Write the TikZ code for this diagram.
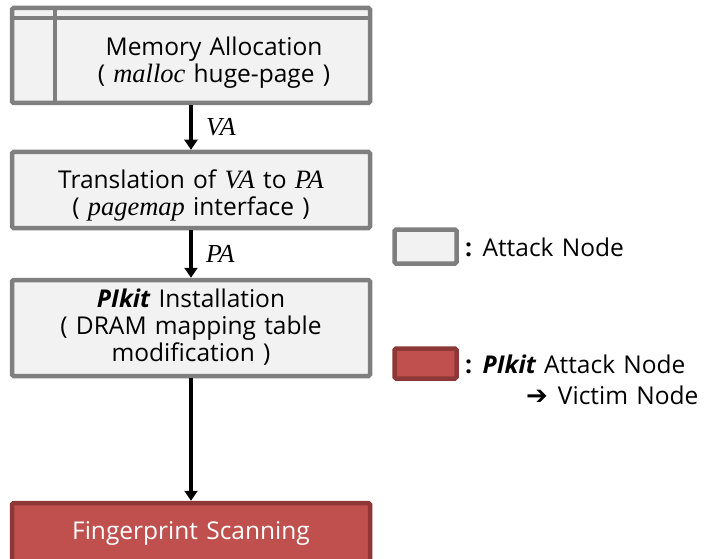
\documentclass[tikz,border=0pt]{standalone}
\usepackage{fontspec}
\setmainfont{Open Sans}[WordSpace=1.3]
\newfontfamily\serifit{Liberation Serif}[Scale=1.08]
\usetikzlibrary{arrows.meta}
\definecolor{boxgray}{HTML}{F2F2F2}
\definecolor{edgegray}{HTML}{7F7F7F}
\definecolor{boxred}{HTML}{C0504D}
\definecolor{edgered}{HTML}{8C3836}
\newcommand{\tit}[1]{{\serifit\itshape #1}}
\newcommand{\pik}{{\bfseries\itshape PIkit}}
\tikzset{
  x=1pt, y=-1pt,
  attack/.style={draw=edgegray, fill=boxgray, line width=4.5pt, rounded corners=1.5pt, inner sep=0pt},
  victim/.style={draw=edgered, fill=boxred, line width=4.5pt, rounded corners=1.5pt, inner sep=0pt},
  txt/.style={font=\fontsize{24.5}{27}\selectfont, align=center, inner sep=0pt},
  flow/.style={line width=4pt, -{Triangle[width=13pt,length=10pt]}},
  lbl/.style={font=\fontsize{24}{26}\selectfont, inner sep=0pt},
}
\begin{document}
\begin{tikzpicture}
\useasboundingbox (0,0) rectangle (715,559);
\clip (0,0) rectangle (715,559);
% process boxes
\node[attack, minimum width=358pt, minimum height=95pt] (alloc) at (191,55.5) {};
\draw[edgegray, line width=4pt] (alloc.north west) ++(0,12) -- ++(358,0);
\draw[edgegray, line width=4pt] (alloc.north west) ++(45,0) -- ++(0,95);
\node[txt] (alloctext) at (214,63) {Memory Allocation\\( \tit{malloc} huge-page )};

\node[attack, minimum width=358pt, minimum height=76pt] (trans) at (191,190) {};
\node[txt] (transtext) at (191,195) {Translation of \tit{VA} to \tit{PA}\\( \tit{pagemap} interface )};

\node[attack, minimum width=358pt, minimum height=96pt] (pikit) at (191,328) {};
\node[txt] (pikittext) at (191,327) {\pik\ Installation\\( DRAM mapping table\\modification )};

\node[victim, minimum width=358pt, minimum height=70pt] (scan) at (191,538) {};
\node[txt, text=white] (scantext) at (191,533) {Fingerprint Scanning};

% flow arrows
\draw[flow] (alloc.south) -- (trans.north) node[midway, right=13pt, lbl] {\tit{VA}};
\draw[flow] (trans.south) -- (pikit.north) node[midway, right=13pt, lbl] {\tit{PA}};
\draw[flow] (pikit.south) -- (scan.north);

% legend
\node[attack, minimum width=62pt, minimum height=34pt] (legA) at (425.5,246.5) {};
\node[txt, anchor=west] (legAtext) at (465,247) {\textbf{:} Attack Node};
\node[victim, minimum width=62pt, minimum height=30pt] (legV) at (425.5,363.5) {};
\node[txt, anchor=west] (legVtext) at (465,364) {\textbf{:} \pik\ Attack Node};
\node[txt, anchor=west] (legVtext2) at (526,395) {{\fontspec{DejaVu Sans}\fontsize{26}{26}\selectfont\bfseries ➔}\hspace{10pt}Victim Node};
\end{tikzpicture}
\end{document}
